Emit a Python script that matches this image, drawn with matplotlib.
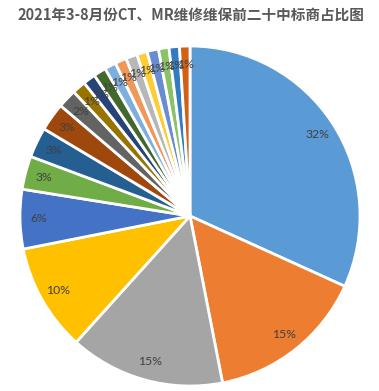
import matplotlib
matplotlib.use("Agg")
import matplotlib.pyplot as plt

title = "2021年3-8月份CT、MR维修维保前二十中标商占比图"
shares = [32.1, 15.3, 14.9, 10.3, 5.7, 3.2, 2.9, 2.7, 1.8,
          1.3, 1.2, 1.2, 1.1, 1.1, 1.1, 1.0, 1.1, 1.0, 1.0]
shares = shares + [1.0]
colors = ["#5B9BD5", "#ED7D31", "#A5A5A5", "#FFC000", "#4472C4", "#70AD47",
          "#255E91", "#9E480E", "#636363", "#997300", "#264478", "#43682B",
          "#7CAFDD", "#F1975A", "#B7B7B7", "#FFCD33", "#698ED0", "#8CC168",
          "#327DC2", "#D26012"]

fig = plt.figure(figsize=(3.79, 3.91), dpi=100)
ax = fig.add_axes([0, 0, 1, 1])
wedges, texts, autotexts = ax.pie(
    shares, colors=colors, startangle=90, counterclock=False,
    autopct=lambda p: f"{p:.0f}%", pctdistance=0.89,
    wedgeprops=dict(edgecolor="white", linewidth=2.0),
    textprops=dict(fontsize=8.8, color="#404040", family=["Lato", "DejaVu Sans"]),
)
ax.set_aspect("equal", adjustable="box")
ax.set_xlim(-190 / 170, 189 / 170)
ax.set_ylim(-(391 - 216) / 170, 216 / 170)
ax.axis("off")

fig.text(0.505, 1 - 15 / 391, title, ha="center", va="center", fontsize=10.5,
         fontweight="bold", color="#595959",
         family=["Noto Sans CJK SC", "DejaVu Sans"])

fig.savefig("out.png", dpi=100)
